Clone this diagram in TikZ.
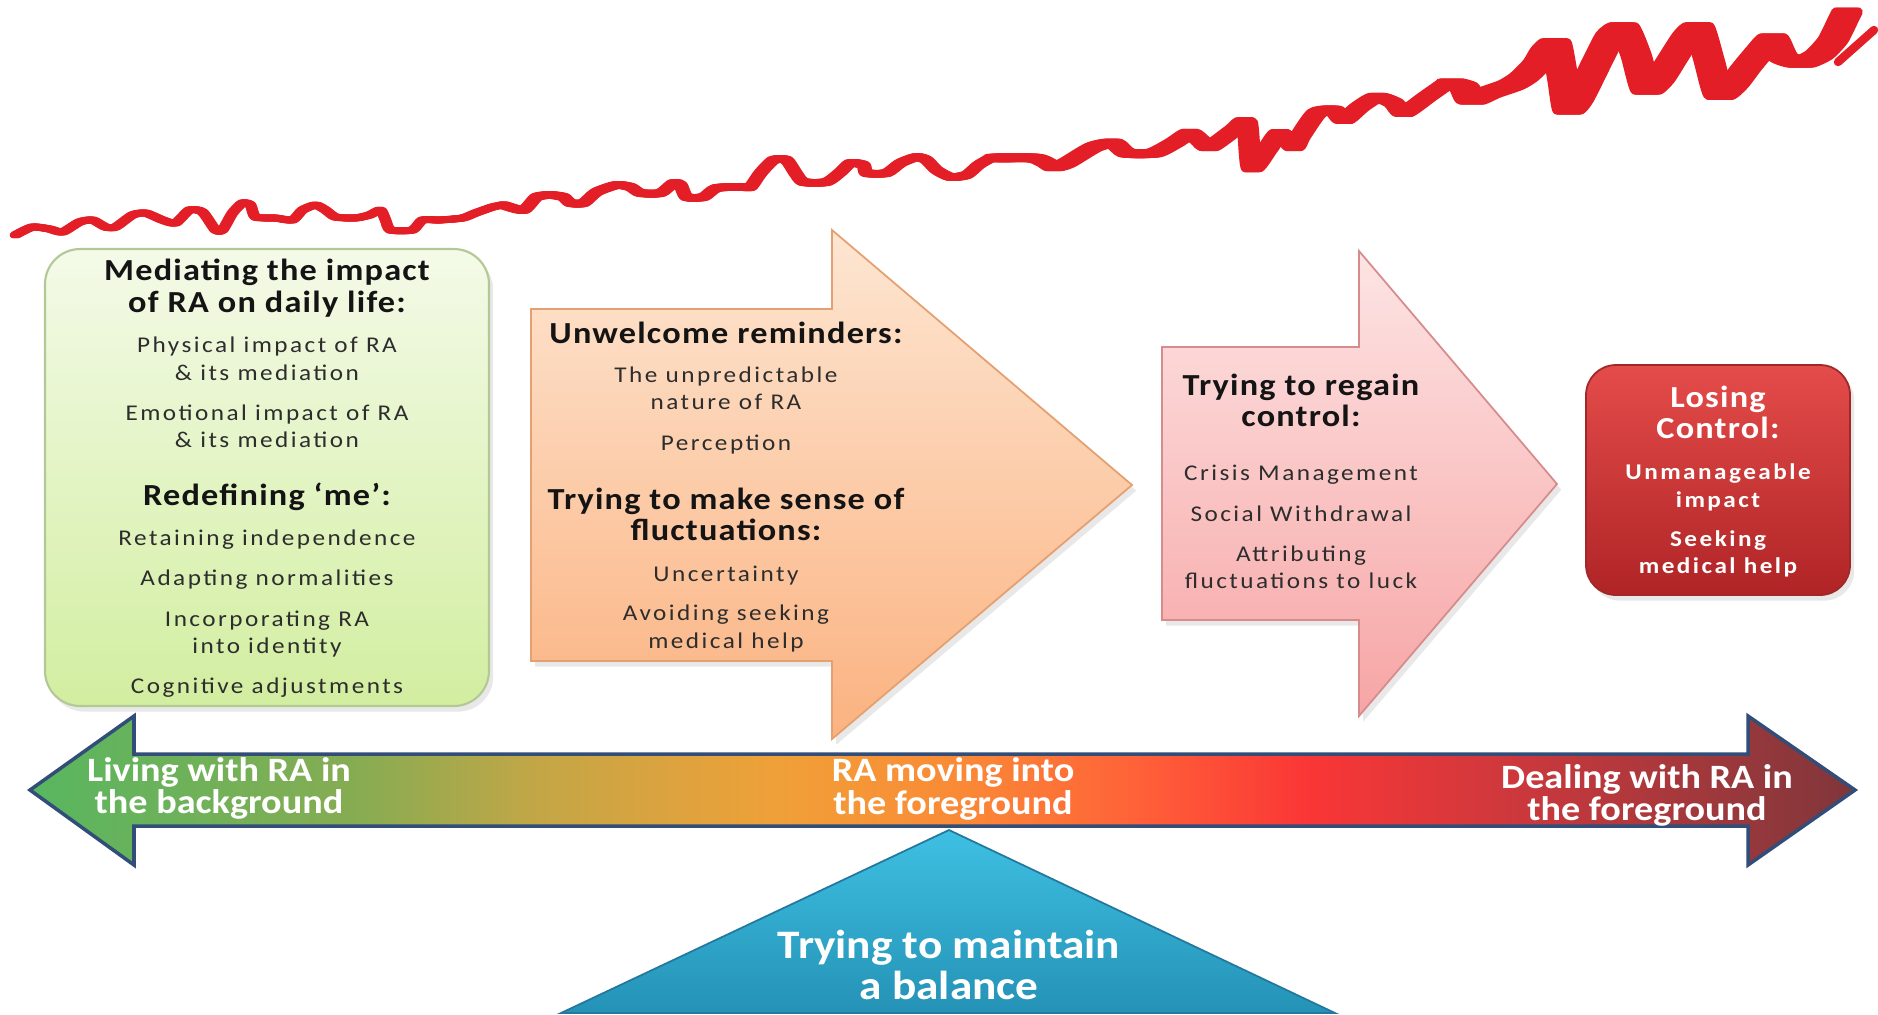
\documentclass[tikz,border=0pt]{standalone}
\usepackage{fontspec}
\setmainfont{Carlito}[FakeStretch=1.12]
\newfontfamily\bodyfont{Carlito}[FakeStretch=1.12,LetterSpace=11]
\newfontfamily\headfont{Carlito}[FakeStretch=1.12,LetterSpace=4]
\newfontfamily\barfont{Carlito}[FakeStretch=1.12]
\usetikzlibrary{shadows}

\definecolor{txtgray}{RGB}{45,45,45}
\definecolor{waveRed}{RGB}{228,30,38}
\definecolor{greenTop}{RGB}{244,250,232}
\definecolor{greenBot}{RGB}{210,238,160}
\definecolor{greenEdge}{RGB}{178,200,150}
\definecolor{orangeTop}{RGB}{253,230,210}
\definecolor{orangeBot}{RGB}{251,178,128}
\definecolor{orangeEdge}{RGB}{228,160,112}
\definecolor{pinkTop}{RGB}{253,228,228}
\definecolor{pinkBot}{RGB}{247,165,165}
\definecolor{pinkEdge}{RGB}{214,140,140}
\definecolor{redTop}{RGB}{228,76,74}
\definecolor{redBot}{RGB}{176,36,38}
\definecolor{redEdge}{RGB}{160,40,40}
\definecolor{triTop}{RGB}{62,192,226}
\definecolor{triBot}{RGB}{36,146,182}
\definecolor{triEdge}{RGB}{36,120,160}
\definecolor{barEdge}{RGB}{50,78,120}
\definecolor{barA}{RGB}{88,182,96}
\definecolor{barB}{RGB}{135,172,82}
\definecolor{barC}{RGB}{196,166,70}
\definecolor{barD}{RGB}{240,160,56}
\definecolor{barE}{RGB}{250,138,54}
\definecolor{barF}{RGB}{255,96,56}
\definecolor{barG}{RGB}{250,54,54}
\definecolor{barH}{RGB}{210,56,60}
\definecolor{barI}{RGB}{150,56,60}
\definecolor{barJ}{RGB}{128,54,58}

% colour ramp of the long double arrow, left (green) to right (dark red)
\pgfdeclarehorizontalshading{barshade}{100bp}{%
  color(0bp)=(barA); color(25bp)=(barA); color(34bp)=(barB);
  color(39bp)=(barC); color(45.5bp)=(barD); color(50.4bp)=(barE);
  color(55.4bp)=(barF); color(60bp)=(barG); color(65bp)=(barH);
  color(72bp)=(barI); color(75bp)=(barJ); color(100bp)=(barJ)}

\tikzset{
  every node/.style={inner sep=0pt, outer sep=0pt},
  wave/.style={draw=waveRed, line cap=round, line join=round},
  softshadow/.style={drop shadow={opacity=0.18, shadow xshift=1.2pt, shadow yshift=-1.6pt}},
  greenbox/.style={draw=greenEdge, line width=0.6pt, top color=greenTop, bottom color=greenBot, rounded corners=10pt, softshadow},
  orangearrow/.style={draw=orangeEdge, line width=0.5pt, top color=orangeTop, bottom color=orangeBot, softshadow},
  pinkarrow/.style={draw=pinkEdge, line width=0.5pt, top color=pinkTop, bottom color=pinkBot, softshadow},
  redbox/.style={draw=redEdge, line width=0.5pt, top color=redTop, bottom color=redBot, rounded corners=8.5pt, softshadow},
  bararrow/.style={draw=barEdge, line width=1pt, line join=miter, shading=barshade},
  balance/.style={draw=triEdge, line width=0.5pt, top color=triTop, bottom color=triBot},
  bodytxt/.style={anchor=base, text=txtgray, font=\bodyfont\fontsize{6.4}{7.7}\selectfont},
  headtxt/.style={anchor=base, text=black!92, font=\headfont\bfseries\fontsize{8.7}{10.4}\selectfont},
  whitehead/.style={headtxt, text=white},
  whitebody/.style={anchor=base, text=white, font=\bodyfont\bfseries\fontsize{6.4}{7.7}\selectfont},
  bartxt/.style={anchor=base, text=white, font=\barfont\bfseries\fontsize{9.7}{11}\selectfont},
  tritxt/.style={anchor=base, text=white, font=\barfont\bfseries\fontsize{11.5}{13}\selectfont},
}

\begin{document}
\begin{tikzpicture}[x=0.01cm, y=-0.01cm]
\useasboundingbox (0,0) rectangle (1878,1014);
\fill[white] (0,0) rectangle (1878,1014);

% ---- rising, increasingly erratic red line (flat horizontal nib) ----
\foreach \s in {0,1,...,5}{
  \draw[wave, line width=1.9pt, xshift=\s*0.01cm] plot[smooth, tension=0.4] coordinates {
    (13,235) (30,227) (47,229) (60,232) (77,222) (90,220) (103,227) (113,227)
    (130,215) (143,213) (160,220) (173,223) (187,210) (200,212) (213,230) (220,230)
    (230,213) (240,203) (248,205) (253,217) (273,218) (290,220) (300,210) (313,205)
    (323,210) (333,217) (353,218) (367,215) (378,210) (383,220) (388,230) (410,230)
    (420,220) (437,220) (460,218) (473,213) (490,207) (500,205)};
}
\foreach \s in {0,1,...,7}{
  \draw[wave, line width=2.1pt, xshift=\s*0.01cm] plot[smooth, tension=0.4] coordinates {
    (500,205) (520,210) (533,197) (547,195) (560,197) (567,203) (580,203) (593,192)
    (613,185) (627,187) (637,193) (657,193) (670,183) (677,185) (683,197) (700,197)
    (713,188) (740,187) (747,187) (757,173) (770,160) (783,160) (792,173) (800,182)
    (823,182) (837,172) (847,163) (860,165) (863,173) (883,173) (897,163) (913,157)
    (923,160) (933,170) (947,177) (963,175) (975,165) (987,158)};
}
\foreach \s in {0,1.5,...,13.5}{
  \draw[wave, line width=2.4pt, xshift=\s*0.01cm] plot[smooth, tension=0.4] coordinates {
    (987,158) (1027,158) (1040,163) (1047,167) (1060,163) (1087,147) (1107,143)
    (1120,153) (1147,153) (1167,143) (1183,133) (1193,140) (1203,147) (1227,130)
    (1240,122) (1245,168) (1260,150) (1273,133) (1287,147) (1293,137) (1310,113)
    (1327,110) (1337,120) (1353,107) (1370,97) (1387,103) (1397,113) (1420,97) (1440,83)};
}
\foreach \s in {0,2,...,22}{
  \draw[wave, line width=2.7pt, xshift=\s*0.01cm] plot[smooth, tension=0.35] coordinates {
    (1440,83) (1453,87) (1460,100) (1477,93) (1500,85) (1513,77) (1527,63) (1535,50)
    (1545,43) (1552,80) (1557,110) (1567,100) (1587,60) (1600,35) (1613,27) (1625,55)
    (1635,90) (1648,80) (1662,58) (1677,35) (1688,27) (1698,60) (1708,95) (1722,85)
    (1735,68) (1750,50) (1762,38) (1772,57) (1790,63) (1808,55) (1822,40) (1832,20) (1836,12)};
}
\draw[wave, line width=2.4pt] (1838,62) -- (1874,30);

% ---- stage 1: green rounded box ----
\draw[greenbox] (45,249) rectangle (489,706);
\node[headtxt] (g1) at (267,280) {Mediating the impact};
\node[headtxt] (g2) at (267,312) {of RA on daily life:};
\node[bodytxt] (g3) at (267,352) {Physical impact of RA};
\node[bodytxt] (g4) at (267,380) {\& its mediation};
\node[bodytxt] (g5) at (267,420) {Emotional impact of RA};
\node[bodytxt] (g6) at (267,447) {\& its mediation};
\node[headtxt] (g7) at (267,505) {Redefining ‘me’:};
\node[bodytxt] (g8) at (267,545) {Retaining independence};
\node[bodytxt] (g9) at (267,585) {Adapting normalities};
\node[bodytxt] (g10) at (267,626) {Incorporating RA};
\node[bodytxt] (g11) at (267,653) {into identity};
\node[bodytxt] (g12) at (267,693) {Cognitive adjustments};

% ---- stage 2: orange block arrow ----
\draw[orangearrow] (531,309) -- (832,309) -- (832,230) -- (1132,485)
  -- (832,739) -- (832,661) -- (531,661) -- cycle;
\node[headtxt] (o1) at (726,343) {Unwelcome reminders:};
\node[bodytxt] (o2) at (726,382) {The unpredictable};
\node[bodytxt] (o3) at (726,409) {nature of RA};
\node[bodytxt] (o4) at (726,450) {Perception};
\node[headtxt] (o5) at (726,509) {Trying to make sense of};
\node[headtxt] (o6) at (726,540) {fluctuations:};
\node[bodytxt] (o7) at (726,581) {Uncertainty};
\node[bodytxt] (o8) at (726,620) {Avoiding seeking};
\node[bodytxt] (o9) at (726,648) {medical help};

% ---- stage 3: pink block arrow ----
\draw[pinkarrow] (1162,347) -- (1359,347) -- (1359,251) -- (1557,484)
  -- (1359,716) -- (1359,620) -- (1162,620) -- cycle;
\node[headtxt] (p1) at (1301,395) {Trying to regain};
\node[headtxt] (p2) at (1301,426) {control:};
\node[bodytxt] (p3) at (1301,480) {Crisis Management};
\node[bodytxt] (p4) at (1301,521) {Social Withdrawal};
\node[bodytxt] (p5) at (1301,561) {Attributing};
\node[bodytxt] (p6) at (1301,588) {fluctuations to luck};

% ---- stage 4: red rounded box ----
\draw[redbox] (1586,365) rectangle (1850,595);
\node[whitehead] (r1) at (1718,407) {Losing};
\node[whitehead] (r2) at (1718,438) {Control:};
\node[whitebody] (r3) at (1718,479) {Unmanageable};
\node[whitebody] (r4) at (1718,507) {impact};
\node[whitebody] (r5) at (1718,546) {Seeking};
\node[whitebody] (r6) at (1718,573) {medical help};

% ---- continuum: double-headed arrow ----
\path[bararrow] (30,790) -- (134,716) -- (134,754) -- (1748,754) -- (1748,716)
  -- (1855,790) -- (1748,865) -- (1748,826) -- (134,826) -- (134,865) -- cycle;
\node[bartxt] (b1) at (219,781) {Living with RA in};
\node[bartxt] (b2) at (219,813) {the background};
\node[bartxt] (b3) at (953,781) {RA moving into};
\node[bartxt] (b4) at (953,814) {the foreground};
\node[bartxt] (b5) at (1647,788) {Dealing with RA in};
\node[bartxt] (b6) at (1647,820) {the foreground};

% ---- fulcrum triangle ----
\draw[balance] (949,830) -- (1335,1013) -- (561,1013) -- cycle;
\node[tritxt] (t1) at (949,958) {Trying to maintain};
\node[tritxt] (t2) at (949,999) {a balance};
\end{tikzpicture}
\end{document}
